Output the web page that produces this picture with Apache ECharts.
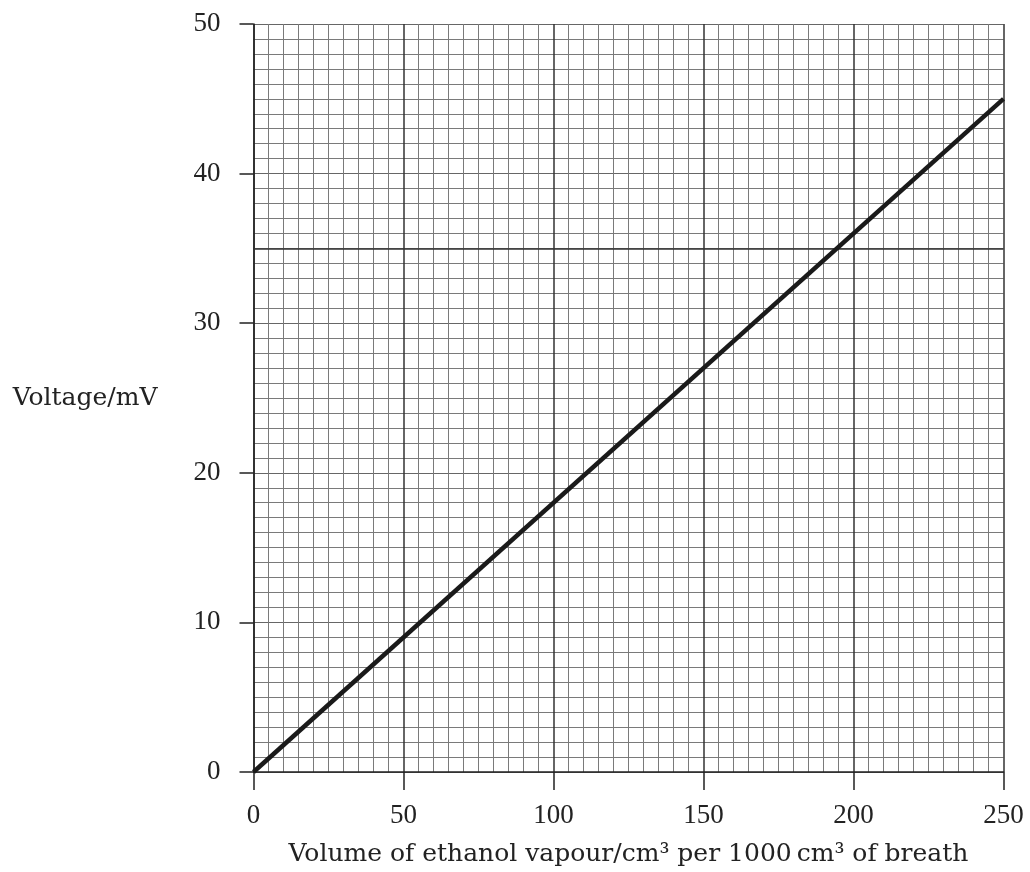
<!DOCTYPE html>
<html>
<head>
<meta charset="utf-8">
<script src="https://cdn.jsdelivr.net/npm/echarts@6/dist/echarts.min.js"></script>
<style>
html,body{margin:0;padding:0;background:#fff;}
#chart{width:1030px;height:872px;}
</style>
</head>
<body>
<div id="chart"></div>
<script>
const xName = 'Volume of ethanol vapour/cm\u00B3 per 1000\u2009cm\u00B3 of breath';
const yName = 'Voltage/mV';
const xTicks = [0, 50, 100, 150, 200, 250];
const yTicks = [0, 10, 20, 30, 40, 50];
const volume = [0, 250];
const voltage = [0, 45];
const darkGridY = [35];

const lineData = volume.map((v, i) => [v, voltage[i]]);
const tickFont = '"Liberation Serif", "DejaVu Serif", serif';
const nameFont = '"DejaVu Serif", "Liberation Serif", serif';

const chart = echarts.init(document.getElementById('chart'));
chart.setOption({
  animation: false,
  backgroundColor: '#fff',
  grid: { left: 253.5, top: 24, width: 750, height: 750, containLabel: false },
  xAxis: {
    type: 'value',
    min: xTicks[0], max: xTicks[xTicks.length - 1], interval: 50,
    name: xName, nameLocation: 'middle', nameGap: 70,
    nameTextStyle: { fontFamily: nameFont, fontSize: 25, color: '#222' },
    axisLine: { show: true, lineStyle: { color: '#222', width: 1.5 } },
    axisTick: { show: true, length: 18, lineStyle: { color: '#222', width: 1.5 } },
    axisLabel: { fontFamily: tickFont, fontSize: 27, color: '#222', margin: 30 },
    splitLine: { show: true, lineStyle: { color: '#333', width: 1.5 } },
    minorTick: { show: false, splitNumber: 10 },
    minorSplitLine: { show: true, lineStyle: { color: '#7a7a7a', width: 1 } }
  },
  yAxis: {
    type: 'value',
    min: yTicks[0], max: yTicks[yTicks.length - 1], interval: 10,
    name: yName, nameLocation: 'middle', nameRotate: 0, nameGap: 96,
    nameTextStyle: { fontFamily: nameFont, fontSize: 25, color: '#222' },
    axisLine: { show: true, lineStyle: { color: '#222', width: 1.5 } },
    axisTick: { show: true, length: 14, lineStyle: { color: '#222', width: 1.5 } },
    axisLabel: { fontFamily: tickFont, fontSize: 27, color: '#222', margin: 33 },
    splitLine: { show: true, lineStyle: { color: '#666', width: 1 } },
    minorTick: { show: false, splitNumber: 10 },
    minorSplitLine: { show: true, lineStyle: { color: '#7a7a7a', width: 1 } }
  },
  series: [{
    type: 'line',
    data: lineData,
    symbol: 'none',
    lineStyle: { color: '#1a1a1a', width: 4.5 },
    z: 10,
    markLine: {
      silent: true,
      symbol: 'none',
      label: { show: false },
      lineStyle: { color: '#333', width: 1.5, type: 'solid' },
      data: darkGridY.map(v => ({ yAxis: v }))
    }
  }]
});
</script>
</body>
</html>
